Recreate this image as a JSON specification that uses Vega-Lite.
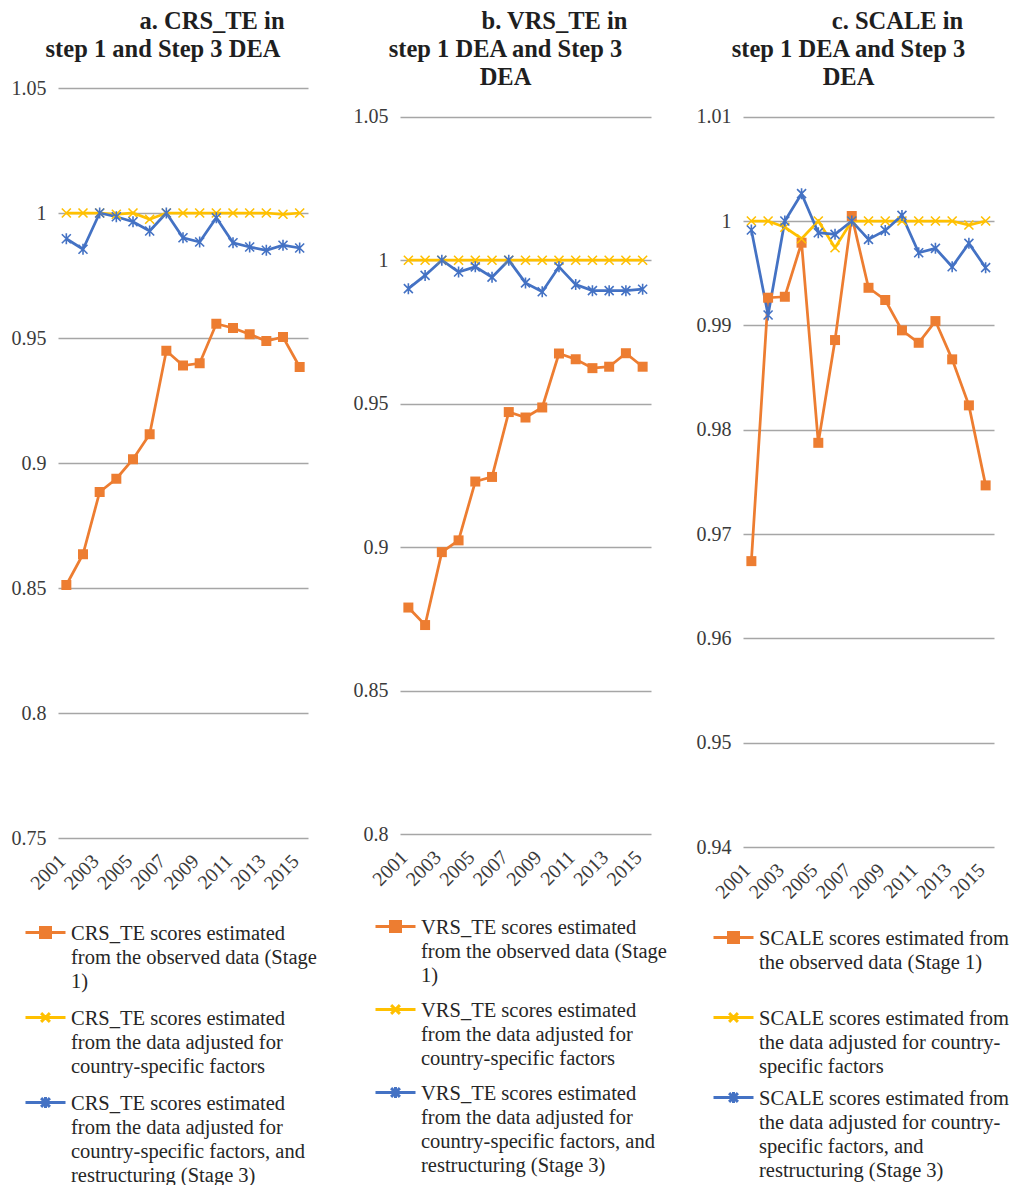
{
  "$schema": "https://vega.github.io/schema/vega-lite/v6.json",
  "background": "white",
  "padding": {"left": 11, "top": 8, "right": 2, "bottom": 1},
  "bounds": "flush",
  "spacing": 92,
  "resolve": {"scale": {"stroke": "independent", "fill": "independent", "shape": "independent"}, "legend": {"stroke": "independent", "fill": "independent", "shape": "independent"}},
  "config": {
    "view": {"stroke": null},
    "font": "Liberation Serif",
    "axis": {"labelFont": "Liberation Serif", "labelFontSize": 20, "labelColor": "#3b3b3b", "domain": false, "ticks": false, "tickSize": 0, "title": null, "labelOverlap": false},
    "axisY": {"grid": true, "gridColor": "#a6a6a6", "gridWidth": 1.3, "labelPadding": 12},
    "axisX": {"grid": false, "labelAngle": -45, "labelAlign": "right", "labelBaseline": "alphabetic", "labelPadding": 24},
    "legend": {"labelFont": "Liberation Serif", "labelFontSize": 20.5, "labelColor": "#262626", "labelLimit": 500, "symbolStrokeWidth": 3, "symbolSize": 400, "labelBaseline": "top", "labelOffset": 14},
    "title": {"font": "Liberation Serif", "fontSize": 24.5, "fontWeight": "bold", "lineHeight": 28, "anchor": "middle", "color": "#1f1f1f", "frame": "group"},
    "style": {"guide-label": {"lineHeight": 24}}
  },
  "hconcat": [
    {
      "width": 250, "height": 750,
      "title": {"text": ["\u200b\u00a0\u00a0\u00a0\u00a0\u00a0\u00a0\u00a0\u00a0\u00a0\u00a0\u00a0\u00a0\u00a0\u00a0\u00a0\u00a0a. CRS_TE in", "step 1 and Step 3 DEA"], "dx": -20, "offset": 16},
      "data": {"values": [
        {"series": "CRS_TE scores estimated from the observed data (Stage 1)", "year": 2001, "value": 0.8512},
        {"series": "CRS_TE scores estimated from the observed data (Stage 1)", "year": 2002, "value": 0.8635},
        {"series": "CRS_TE scores estimated from the observed data (Stage 1)", "year": 2003, "value": 0.8884},
        {"series": "CRS_TE scores estimated from the observed data (Stage 1)", "year": 2004, "value": 0.8937},
        {"series": "CRS_TE scores estimated from the observed data (Stage 1)", "year": 2005, "value": 0.9015},
        {"series": "CRS_TE scores estimated from the observed data (Stage 1)", "year": 2006, "value": 0.9115},
        {"series": "CRS_TE scores estimated from the observed data (Stage 1)", "year": 2007, "value": 0.9449},
        {"series": "CRS_TE scores estimated from the observed data (Stage 1)", "year": 2008, "value": 0.939},
        {"series": "CRS_TE scores estimated from the observed data (Stage 1)", "year": 2009, "value": 0.9399},
        {"series": "CRS_TE scores estimated from the observed data (Stage 1)", "year": 2010, "value": 0.9557},
        {"series": "CRS_TE scores estimated from the observed data (Stage 1)", "year": 2011, "value": 0.954},
        {"series": "CRS_TE scores estimated from the observed data (Stage 1)", "year": 2012, "value": 0.9515},
        {"series": "CRS_TE scores estimated from the observed data (Stage 1)", "year": 2013, "value": 0.9488},
        {"series": "CRS_TE scores estimated from the observed data (Stage 1)", "year": 2014, "value": 0.9504},
        {"series": "CRS_TE scores estimated from the observed data (Stage 1)", "year": 2015, "value": 0.9384},
        {"series": "CRS_TE scores estimated from the data adjusted for country-specific factors", "year": 2001, "value": 1.0},
        {"series": "CRS_TE scores estimated from the data adjusted for country-specific factors", "year": 2002, "value": 1.0},
        {"series": "CRS_TE scores estimated from the data adjusted for country-specific factors", "year": 2003, "value": 1.0},
        {"series": "CRS_TE scores estimated from the data adjusted for country-specific factors", "year": 2004, "value": 0.9995},
        {"series": "CRS_TE scores estimated from the data adjusted for country-specific factors", "year": 2005, "value": 1.0},
        {"series": "CRS_TE scores estimated from the data adjusted for country-specific factors", "year": 2006, "value": 0.9975},
        {"series": "CRS_TE scores estimated from the data adjusted for country-specific factors", "year": 2007, "value": 1.0},
        {"series": "CRS_TE scores estimated from the data adjusted for country-specific factors", "year": 2008, "value": 1.0},
        {"series": "CRS_TE scores estimated from the data adjusted for country-specific factors", "year": 2009, "value": 1.0},
        {"series": "CRS_TE scores estimated from the data adjusted for country-specific factors", "year": 2010, "value": 1.0},
        {"series": "CRS_TE scores estimated from the data adjusted for country-specific factors", "year": 2011, "value": 1.0},
        {"series": "CRS_TE scores estimated from the data adjusted for country-specific factors", "year": 2012, "value": 1.0},
        {"series": "CRS_TE scores estimated from the data adjusted for country-specific factors", "year": 2013, "value": 1.0},
        {"series": "CRS_TE scores estimated from the data adjusted for country-specific factors", "year": 2014, "value": 0.9995},
        {"series": "CRS_TE scores estimated from the data adjusted for country-specific factors", "year": 2015, "value": 1.0},
        {"series": "CRS_TE scores estimated from the data adjusted for country-specific factors, and restructuring (Stage 3)", "year": 2001, "value": 0.9897},
        {"series": "CRS_TE scores estimated from the data adjusted for country-specific factors, and restructuring (Stage 3)", "year": 2002, "value": 0.9855},
        {"series": "CRS_TE scores estimated from the data adjusted for country-specific factors, and restructuring (Stage 3)", "year": 2003, "value": 1.0},
        {"series": "CRS_TE scores estimated from the data adjusted for country-specific factors, and restructuring (Stage 3)", "year": 2004, "value": 0.9985},
        {"series": "CRS_TE scores estimated from the data adjusted for country-specific factors, and restructuring (Stage 3)", "year": 2005, "value": 0.9965},
        {"series": "CRS_TE scores estimated from the data adjusted for country-specific factors, and restructuring (Stage 3)", "year": 2006, "value": 0.9928},
        {"series": "CRS_TE scores estimated from the data adjusted for country-specific factors, and restructuring (Stage 3)", "year": 2007, "value": 1.0},
        {"series": "CRS_TE scores estimated from the data adjusted for country-specific factors, and restructuring (Stage 3)", "year": 2008, "value": 0.9901},
        {"series": "CRS_TE scores estimated from the data adjusted for country-specific factors, and restructuring (Stage 3)", "year": 2009, "value": 0.9884},
        {"series": "CRS_TE scores estimated from the data adjusted for country-specific factors, and restructuring (Stage 3)", "year": 2010, "value": 0.9981},
        {"series": "CRS_TE scores estimated from the data adjusted for country-specific factors, and restructuring (Stage 3)", "year": 2011, "value": 0.9881},
        {"series": "CRS_TE scores estimated from the data adjusted for country-specific factors, and restructuring (Stage 3)", "year": 2012, "value": 0.9864},
        {"series": "CRS_TE scores estimated from the data adjusted for country-specific factors, and restructuring (Stage 3)", "year": 2013, "value": 0.9851},
        {"series": "CRS_TE scores estimated from the data adjusted for country-specific factors, and restructuring (Stage 3)", "year": 2014, "value": 0.9871},
        {"series": "CRS_TE scores estimated from the data adjusted for country-specific factors, and restructuring (Stage 3)", "year": 2015, "value": 0.986}
      ]},
      "encoding": {
        "x": {"field": "year", "type": "ordinal", "axis": {"values": [2001, 2003, 2005, 2007, 2009, 2011, 2013, 2015]}},
        "y": {"field": "value", "type": "quantitative", "scale": {"domain": [0.75, 1.05], "nice": false, "zero": false}, "axis": {"values": [0.75, 0.8, 0.85, 0.9, 0.95, 1, 1.05], "format": "~g"}}
      },
      "layer": [
        {"mark": {"type": "line", "strokeWidth": 2.75},
         "encoding": {"stroke": {"field": "series", "type": "nominal",
           "scale": {"domain": ["CRS_TE scores estimated from the observed data (Stage 1)", "CRS_TE scores estimated from the data adjusted for country-specific factors", "CRS_TE scores estimated from the data adjusted for country-specific factors, and restructuring (Stage 3)"], "range": ["#ED7D31", "#FFC000", "#4472C4"]}}}},
        {"transform": [{"filter": "indexof(datum.series, 'observed') >= 0"}],
         "mark": {"type": "point", "shape": "square", "filled": true, "color": "#ED7D31", "size": 100, "opacity": 1}},
        {"transform": [{"filter": "indexof(datum.series, 'observed') < 0 && indexof(datum.series, 'restructuring') < 0"}],
         "mark": {"type": "point", "shape": "M-0.9,-0.9L0.9,0.9M-0.9,0.9L0.9,-0.9", "filled": false, "color": "#FFC000", "size": 100, "strokeWidth": 1.6, "opacity": 1}},
        {"transform": [{"filter": "indexof(datum.series, 'restructuring') >= 0"}],
         "mark": {"type": "point", "shape": "M-0.9,-0.9L0.9,0.9M-0.9,0.9L0.9,-0.9M0,-1.1L0,1.1", "filled": false, "color": "#4472C4", "size": 100, "strokeWidth": 1.6, "opacity": 1}},
        {"transform": [{"filter": "datum.year < 0"}],
         "mark": {"type": "point", "opacity": 1, "strokeWidth": 3},
         "encoding": {
           "fill": {"field": "series", "type": "nominal",
             "scale": {"domain": ["CRS_TE scores estimated from the observed data (Stage 1)", "CRS_TE scores estimated from the data adjusted for country-specific factors", "CRS_TE scores estimated from the data adjusted for country-specific factors, and restructuring (Stage 3)"], "range": ["#ED7D31", "#FFC000", "#4472C4"]},
             "legend": {"orient": "none", "legendX": -24, "legendY": 824, "title": null, "rowPadding": 5,
               "labelExpr": "indexof(datum.label,'observed')>=0 ? ['CRS_TE scores estimated','from the observed data (Stage','1)'] : indexof(datum.label,'restructuring')>=0 ? ['CRS_TE scores estimated','from the data adjusted for','country-specific factors, and','restructuring (Stage 3)'] : ['CRS_TE scores estimated','from the data adjusted for','country-specific factors']"}},
           "stroke": {"field": "series", "type": "nominal",
             "scale": {"domain": ["CRS_TE scores estimated from the observed data (Stage 1)", "CRS_TE scores estimated from the data adjusted for country-specific factors", "CRS_TE scores estimated from the data adjusted for country-specific factors, and restructuring (Stage 3)"], "range": ["#ED7D31", "#FFC000", "#4472C4"]},
             "legend": {"orient": "none", "legendX": -24, "legendY": 824, "title": null, "rowPadding": 5,
               "labelExpr": "indexof(datum.label,'observed')>=0 ? ['CRS_TE scores estimated','from the observed data (Stage','1)'] : indexof(datum.label,'restructuring')>=0 ? ['CRS_TE scores estimated','from the data adjusted for','country-specific factors, and','restructuring (Stage 3)'] : ['CRS_TE scores estimated','from the data adjusted for','country-specific factors']"}},
           "shape": {"field": "series", "type": "nominal",
             "scale": {"domain": ["CRS_TE scores estimated from the observed data (Stage 1)", "CRS_TE scores estimated from the data adjusted for country-specific factors", "CRS_TE scores estimated from the data adjusted for country-specific factors, and restructuring (Stage 3)"], "range": ["M-2,0.9L2,0.9M-0.5,0.4L0.5,0.4L0.5,1.4L-0.5,1.4Z", "M-2,0.9L2,0.9M-0.44,0.46L0.44,1.34M-0.44,1.34L0.44,0.46", "M-2,0.9L2,0.9M-0.44,0.46L0.44,1.34M-0.44,1.34L0.44,0.46M0,0.34L0,1.46"]},
             "legend": {"orient": "none", "legendX": -24, "legendY": 824, "title": null, "rowPadding": 5,
               "labelExpr": "indexof(datum.label,'observed')>=0 ? ['CRS_TE scores estimated','from the observed data (Stage','1)'] : indexof(datum.label,'restructuring')>=0 ? ['CRS_TE scores estimated','from the data adjusted for','country-specific factors, and','restructuring (Stage 3)'] : ['CRS_TE scores estimated','from the data adjusted for','country-specific factors']"}}
         }}
      ]
    },
    {
      "width": 251, "height": 746.3,
      "title": {"text": ["\u200b\u00a0\u00a0\u00a0\u00a0\u00a0\u00a0\u00a0\u00a0\u00a0\u00a0\u00a0\u00a0\u00a0\u00a0\u00a0\u00a0b. VRS_TE in", "step 1 DEA and Step 3", "DEA"], "dx": -20, "offset": -2},
      "data": {"values": [
        {"series": "VRS_TE scores estimated from the observed data (Stage 1)", "year": 2001, "value": 0.879},
        {"series": "VRS_TE scores estimated from the observed data (Stage 1)", "year": 2002, "value": 0.8729},
        {"series": "VRS_TE scores estimated from the observed data (Stage 1)", "year": 2003, "value": 0.8983},
        {"series": "VRS_TE scores estimated from the observed data (Stage 1)", "year": 2004, "value": 0.9024},
        {"series": "VRS_TE scores estimated from the observed data (Stage 1)", "year": 2005, "value": 0.9229},
        {"series": "VRS_TE scores estimated from the observed data (Stage 1)", "year": 2006, "value": 0.9245},
        {"series": "VRS_TE scores estimated from the observed data (Stage 1)", "year": 2007, "value": 0.9471},
        {"series": "VRS_TE scores estimated from the observed data (Stage 1)", "year": 2008, "value": 0.9452},
        {"series": "VRS_TE scores estimated from the observed data (Stage 1)", "year": 2009, "value": 0.9487},
        {"series": "VRS_TE scores estimated from the observed data (Stage 1)", "year": 2010, "value": 0.9675},
        {"series": "VRS_TE scores estimated from the observed data (Stage 1)", "year": 2011, "value": 0.9655},
        {"series": "VRS_TE scores estimated from the observed data (Stage 1)", "year": 2012, "value": 0.9624},
        {"series": "VRS_TE scores estimated from the observed data (Stage 1)", "year": 2013, "value": 0.9629},
        {"series": "VRS_TE scores estimated from the observed data (Stage 1)", "year": 2014, "value": 0.9676},
        {"series": "VRS_TE scores estimated from the observed data (Stage 1)", "year": 2015, "value": 0.9629},
        {"series": "VRS_TE scores estimated from the data adjusted for country-specific factors", "year": 2001, "value": 1.0},
        {"series": "VRS_TE scores estimated from the data adjusted for country-specific factors", "year": 2002, "value": 1.0},
        {"series": "VRS_TE scores estimated from the data adjusted for country-specific factors", "year": 2003, "value": 1.0},
        {"series": "VRS_TE scores estimated from the data adjusted for country-specific factors", "year": 2004, "value": 1.0},
        {"series": "VRS_TE scores estimated from the data adjusted for country-specific factors", "year": 2005, "value": 1.0},
        {"series": "VRS_TE scores estimated from the data adjusted for country-specific factors", "year": 2006, "value": 1.0},
        {"series": "VRS_TE scores estimated from the data adjusted for country-specific factors", "year": 2007, "value": 1.0},
        {"series": "VRS_TE scores estimated from the data adjusted for country-specific factors", "year": 2008, "value": 1.0},
        {"series": "VRS_TE scores estimated from the data adjusted for country-specific factors", "year": 2009, "value": 1.0},
        {"series": "VRS_TE scores estimated from the data adjusted for country-specific factors", "year": 2010, "value": 1.0},
        {"series": "VRS_TE scores estimated from the data adjusted for country-specific factors", "year": 2011, "value": 1.0},
        {"series": "VRS_TE scores estimated from the data adjusted for country-specific factors", "year": 2012, "value": 1.0},
        {"series": "VRS_TE scores estimated from the data adjusted for country-specific factors", "year": 2013, "value": 1.0},
        {"series": "VRS_TE scores estimated from the data adjusted for country-specific factors", "year": 2014, "value": 1.0},
        {"series": "VRS_TE scores estimated from the data adjusted for country-specific factors", "year": 2015, "value": 1.0},
        {"series": "VRS_TE scores estimated from the data adjusted for country-specific factors, and restructuring (Stage 3)", "year": 2001, "value": 0.9901},
        {"series": "VRS_TE scores estimated from the data adjusted for country-specific factors, and restructuring (Stage 3)", "year": 2002, "value": 0.9947},
        {"series": "VRS_TE scores estimated from the data adjusted for country-specific factors, and restructuring (Stage 3)", "year": 2003, "value": 1.0},
        {"series": "VRS_TE scores estimated from the data adjusted for country-specific factors, and restructuring (Stage 3)", "year": 2004, "value": 0.9959},
        {"series": "VRS_TE scores estimated from the data adjusted for country-specific factors, and restructuring (Stage 3)", "year": 2005, "value": 0.9977},
        {"series": "VRS_TE scores estimated from the data adjusted for country-specific factors, and restructuring (Stage 3)", "year": 2006, "value": 0.9941},
        {"series": "VRS_TE scores estimated from the data adjusted for country-specific factors, and restructuring (Stage 3)", "year": 2007, "value": 1.0},
        {"series": "VRS_TE scores estimated from the data adjusted for country-specific factors, and restructuring (Stage 3)", "year": 2008, "value": 0.9921},
        {"series": "VRS_TE scores estimated from the data adjusted for country-specific factors, and restructuring (Stage 3)", "year": 2009, "value": 0.989},
        {"series": "VRS_TE scores estimated from the data adjusted for country-specific factors, and restructuring (Stage 3)", "year": 2010, "value": 0.9977},
        {"series": "VRS_TE scores estimated from the data adjusted for country-specific factors, and restructuring (Stage 3)", "year": 2011, "value": 0.9915},
        {"series": "VRS_TE scores estimated from the data adjusted for country-specific factors, and restructuring (Stage 3)", "year": 2012, "value": 0.9894},
        {"series": "VRS_TE scores estimated from the data adjusted for country-specific factors, and restructuring (Stage 3)", "year": 2013, "value": 0.9894},
        {"series": "VRS_TE scores estimated from the data adjusted for country-specific factors, and restructuring (Stage 3)", "year": 2014, "value": 0.9894},
        {"series": "VRS_TE scores estimated from the data adjusted for country-specific factors, and restructuring (Stage 3)", "year": 2015, "value": 0.9899}
      ]},
      "encoding": {
        "x": {"field": "year", "type": "ordinal", "axis": {"values": [2001, 2003, 2005, 2007, 2009, 2011, 2013, 2015]}},
        "y": {"field": "value", "type": "quantitative", "scale": {"domain": [0.8, 1.06], "nice": false, "zero": false}, "axis": {"values": [0.8, 0.85, 0.9, 0.95, 1, 1.05], "format": "~g"}}
      },
      "layer": [
        {"mark": {"type": "line", "strokeWidth": 2.75},
         "encoding": {"stroke": {"field": "series", "type": "nominal",
           "scale": {"domain": ["VRS_TE scores estimated from the observed data (Stage 1)", "VRS_TE scores estimated from the data adjusted for country-specific factors", "VRS_TE scores estimated from the data adjusted for country-specific factors, and restructuring (Stage 3)"], "range": ["#ED7D31", "#FFC000", "#4472C4"]}}}},
        {"transform": [{"filter": "indexof(datum.series, 'observed') >= 0"}],
         "mark": {"type": "point", "shape": "square", "filled": true, "color": "#ED7D31", "size": 100, "opacity": 1}},
        {"transform": [{"filter": "indexof(datum.series, 'observed') < 0 && indexof(datum.series, 'restructuring') < 0"}],
         "mark": {"type": "point", "shape": "M-0.9,-0.9L0.9,0.9M-0.9,0.9L0.9,-0.9", "filled": false, "color": "#FFC000", "size": 100, "strokeWidth": 1.6, "opacity": 1}},
        {"transform": [{"filter": "indexof(datum.series, 'restructuring') >= 0"}],
         "mark": {"type": "point", "shape": "M-0.9,-0.9L0.9,0.9M-0.9,0.9L0.9,-0.9M0,-1.1L0,1.1", "filled": false, "color": "#4472C4", "size": 100, "strokeWidth": 1.6, "opacity": 1}},
        {"transform": [{"filter": "datum.year < 0"}],
         "mark": {"type": "point", "opacity": 1, "strokeWidth": 3},
         "encoding": {
           "fill": {"field": "series", "type": "nominal",
             "scale": {"domain": ["VRS_TE scores estimated from the observed data (Stage 1)", "VRS_TE scores estimated from the data adjusted for country-specific factors", "VRS_TE scores estimated from the data adjusted for country-specific factors, and restructuring (Stage 3)"], "range": ["#ED7D31", "#FFC000", "#4472C4"]},
             "legend": {"orient": "none", "legendX": -16, "legendY": 818, "title": null, "rowPadding": 3,
               "labelExpr": "indexof(datum.label,'observed')>=0 ? ['VRS_TE scores estimated','from the observed data (Stage','1)'] : indexof(datum.label,'restructuring')>=0 ? ['VRS_TE scores estimated','from the data adjusted for','country-specific factors, and','restructuring (Stage 3)'] : ['VRS_TE scores estimated','from the data adjusted for','country-specific factors']"}},
           "stroke": {"field": "series", "type": "nominal",
             "scale": {"domain": ["VRS_TE scores estimated from the observed data (Stage 1)", "VRS_TE scores estimated from the data adjusted for country-specific factors", "VRS_TE scores estimated from the data adjusted for country-specific factors, and restructuring (Stage 3)"], "range": ["#ED7D31", "#FFC000", "#4472C4"]},
             "legend": {"orient": "none", "legendX": -16, "legendY": 818, "title": null, "rowPadding": 3,
               "labelExpr": "indexof(datum.label,'observed')>=0 ? ['VRS_TE scores estimated','from the observed data (Stage','1)'] : indexof(datum.label,'restructuring')>=0 ? ['VRS_TE scores estimated','from the data adjusted for','country-specific factors, and','restructuring (Stage 3)'] : ['VRS_TE scores estimated','from the data adjusted for','country-specific factors']"}},
           "shape": {"field": "series", "type": "nominal",
             "scale": {"domain": ["VRS_TE scores estimated from the observed data (Stage 1)", "VRS_TE scores estimated from the data adjusted for country-specific factors", "VRS_TE scores estimated from the data adjusted for country-specific factors, and restructuring (Stage 3)"], "range": ["M-2,0.9L2,0.9M-0.5,0.4L0.5,0.4L0.5,1.4L-0.5,1.4Z", "M-2,0.9L2,0.9M-0.44,0.46L0.44,1.34M-0.44,1.34L0.44,0.46", "M-2,0.9L2,0.9M-0.44,0.46L0.44,1.34M-0.44,1.34L0.44,0.46M0,0.34L0,1.46"]},
             "legend": {"orient": "none", "legendX": -16, "legendY": 818, "title": null, "rowPadding": 3,
               "labelExpr": "indexof(datum.label,'observed')>=0 ? ['VRS_TE scores estimated','from the observed data (Stage','1)'] : indexof(datum.label,'restructuring')>=0 ? ['VRS_TE scores estimated','from the data adjusted for','country-specific factors, and','restructuring (Stage 3)'] : ['VRS_TE scores estimated','from the data adjusted for','country-specific factors']"}}
         }}
      ]
    },
    {
      "width": 251, "height": 759,
      "title": {"text": ["\u200b\u00a0\u00a0\u00a0\u00a0\u00a0\u00a0\u00a0\u00a0\u00a0\u00a0\u00a0\u00a0\u00a0\u00a0\u00a0\u00a0c. SCALE in", "step 1 DEA and Step 3", "DEA"], "dx": -20, "offset": -2},
      "data": {"values": [
        {"series": "SCALE scores estimated from the observed data (Stage 1)", "year": 2001, "value": 0.9674},
        {"series": "SCALE scores estimated from the observed data (Stage 1)", "year": 2002, "value": 0.99265},
        {"series": "SCALE scores estimated from the observed data (Stage 1)", "year": 2003, "value": 0.99274},
        {"series": "SCALE scores estimated from the observed data (Stage 1)", "year": 2004, "value": 0.99792},
        {"series": "SCALE scores estimated from the observed data (Stage 1)", "year": 2005, "value": 0.97874},
        {"series": "SCALE scores estimated from the observed data (Stage 1)", "year": 2006, "value": 0.98859},
        {"series": "SCALE scores estimated from the observed data (Stage 1)", "year": 2007, "value": 1.00048},
        {"series": "SCALE scores estimated from the observed data (Stage 1)", "year": 2008, "value": 0.9936},
        {"series": "SCALE scores estimated from the observed data (Stage 1)", "year": 2009, "value": 0.99243},
        {"series": "SCALE scores estimated from the observed data (Stage 1)", "year": 2010, "value": 0.98952},
        {"series": "SCALE scores estimated from the observed data (Stage 1)", "year": 2011, "value": 0.98833},
        {"series": "SCALE scores estimated from the observed data (Stage 1)", "year": 2012, "value": 0.99041},
        {"series": "SCALE scores estimated from the observed data (Stage 1)", "year": 2013, "value": 0.98674},
        {"series": "SCALE scores estimated from the observed data (Stage 1)", "year": 2014, "value": 0.98233},
        {"series": "SCALE scores estimated from the observed data (Stage 1)", "year": 2015, "value": 0.97466},
        {"series": "SCALE scores estimated from the data adjusted for country-specific factors", "year": 2001, "value": 1.0},
        {"series": "SCALE scores estimated from the data adjusted for country-specific factors", "year": 2002, "value": 1.0},
        {"series": "SCALE scores estimated from the data adjusted for country-specific factors", "year": 2003, "value": 0.9994},
        {"series": "SCALE scores estimated from the data adjusted for country-specific factors", "year": 2004, "value": 0.9983},
        {"series": "SCALE scores estimated from the data adjusted for country-specific factors", "year": 2005, "value": 1.0},
        {"series": "SCALE scores estimated from the data adjusted for country-specific factors", "year": 2006, "value": 0.99744},
        {"series": "SCALE scores estimated from the data adjusted for country-specific factors", "year": 2007, "value": 1.0},
        {"series": "SCALE scores estimated from the data adjusted for country-specific factors", "year": 2008, "value": 1.0},
        {"series": "SCALE scores estimated from the data adjusted for country-specific factors", "year": 2009, "value": 1.0},
        {"series": "SCALE scores estimated from the data adjusted for country-specific factors", "year": 2010, "value": 1.0},
        {"series": "SCALE scores estimated from the data adjusted for country-specific factors", "year": 2011, "value": 1.0},
        {"series": "SCALE scores estimated from the data adjusted for country-specific factors", "year": 2012, "value": 1.0},
        {"series": "SCALE scores estimated from the data adjusted for country-specific factors", "year": 2013, "value": 1.0},
        {"series": "SCALE scores estimated from the data adjusted for country-specific factors", "year": 2014, "value": 0.99962},
        {"series": "SCALE scores estimated from the data adjusted for country-specific factors", "year": 2015, "value": 1.0},
        {"series": "SCALE scores estimated from the data adjusted for country-specific factors, and restructuring (Stage 3)", "year": 2001, "value": 0.99914},
        {"series": "SCALE scores estimated from the data adjusted for country-specific factors, and restructuring (Stage 3)", "year": 2002, "value": 0.99099},
        {"series": "SCALE scores estimated from the data adjusted for country-specific factors, and restructuring (Stage 3)", "year": 2003, "value": 1.0},
        {"series": "SCALE scores estimated from the data adjusted for country-specific factors, and restructuring (Stage 3)", "year": 2004, "value": 1.00262},
        {"series": "SCALE scores estimated from the data adjusted for country-specific factors, and restructuring (Stage 3)", "year": 2005, "value": 0.99888},
        {"series": "SCALE scores estimated from the data adjusted for country-specific factors, and restructuring (Stage 3)", "year": 2006, "value": 0.99872},
        {"series": "SCALE scores estimated from the data adjusted for country-specific factors, and restructuring (Stage 3)", "year": 2007, "value": 1.0},
        {"series": "SCALE scores estimated from the data adjusted for country-specific factors, and restructuring (Stage 3)", "year": 2008, "value": 0.99824},
        {"series": "SCALE scores estimated from the data adjusted for country-specific factors, and restructuring (Stage 3)", "year": 2009, "value": 0.9991},
        {"series": "SCALE scores estimated from the data adjusted for country-specific factors, and restructuring (Stage 3)", "year": 2010, "value": 1.00054},
        {"series": "SCALE scores estimated from the data adjusted for country-specific factors, and restructuring (Stage 3)", "year": 2011, "value": 0.99696},
        {"series": "SCALE scores estimated from the data adjusted for country-specific factors, and restructuring (Stage 3)", "year": 2012, "value": 0.99738},
        {"series": "SCALE scores estimated from the data adjusted for country-specific factors, and restructuring (Stage 3)", "year": 2013, "value": 0.99562},
        {"series": "SCALE scores estimated from the data adjusted for country-specific factors, and restructuring (Stage 3)", "year": 2014, "value": 0.99786},
        {"series": "SCALE scores estimated from the data adjusted for country-specific factors, and restructuring (Stage 3)", "year": 2015, "value": 0.99553}
      ]},
      "encoding": {
        "x": {"field": "year", "type": "ordinal", "axis": {"values": [2001, 2003, 2005, 2007, 2009, 2011, 2013, 2015]}},
        "y": {"field": "value", "type": "quantitative", "scale": {"domain": [0.94, 1.01275], "nice": false, "zero": false}, "axis": {"values": [0.94, 0.95, 0.96, 0.97, 0.98, 0.99, 1, 1.01], "format": "~g"}}
      },
      "layer": [
        {"mark": {"type": "line", "strokeWidth": 2.75},
         "encoding": {"stroke": {"field": "series", "type": "nominal",
           "scale": {"domain": ["SCALE scores estimated from the observed data (Stage 1)", "SCALE scores estimated from the data adjusted for country-specific factors", "SCALE scores estimated from the data adjusted for country-specific factors, and restructuring (Stage 3)"], "range": ["#ED7D31", "#FFC000", "#4472C4"]}}}},
        {"transform": [{"filter": "indexof(datum.series, 'observed') >= 0"}],
         "mark": {"type": "point", "shape": "square", "filled": true, "color": "#ED7D31", "size": 100, "opacity": 1}},
        {"transform": [{"filter": "indexof(datum.series, 'observed') < 0 && indexof(datum.series, 'restructuring') < 0"}],
         "mark": {"type": "point", "shape": "M-0.9,-0.9L0.9,0.9M-0.9,0.9L0.9,-0.9", "filled": false, "color": "#FFC000", "size": 100, "strokeWidth": 1.6, "opacity": 1}},
        {"transform": [{"filter": "indexof(datum.series, 'restructuring') >= 0"}],
         "mark": {"type": "point", "shape": "M-0.9,-0.9L0.9,0.9M-0.9,0.9L0.9,-0.9M0,-1.1L0,1.1", "filled": false, "color": "#4472C4", "size": 100, "strokeWidth": 1.6, "opacity": 1}},
        {"transform": [{"filter": "datum.year < 0"}],
         "mark": {"type": "point", "opacity": 1, "strokeWidth": 3},
         "encoding": {
           "fill": {"field": "series", "type": "nominal",
             "scale": {"domain": ["SCALE scores estimated from the observed data (Stage 1)", "SCALE scores estimated from the data adjusted for country-specific factors", "SCALE scores estimated from the data adjusted for country-specific factors, and restructuring (Stage 3)"], "range": ["#ED7D31", "#FFC000", "#4472C4"]},
             "legend": {"orient": "none", "legendX": -21, "legendY": 829, "title": null, "rowPadding": 0,
               "labelExpr": "indexof(datum.label,'observed')>=0 ? ['SCALE scores estimated from','the observed data (Stage 1)',' '] : indexof(datum.label,'restructuring')>=0 ? ['SCALE scores estimated from','the data adjusted for country-','specific factors, and','restructuring (Stage 3)'] : ['SCALE scores estimated from','the data adjusted for country-','specific factors']"}},
           "stroke": {"field": "series", "type": "nominal",
             "scale": {"domain": ["SCALE scores estimated from the observed data (Stage 1)", "SCALE scores estimated from the data adjusted for country-specific factors", "SCALE scores estimated from the data adjusted for country-specific factors, and restructuring (Stage 3)"], "range": ["#ED7D31", "#FFC000", "#4472C4"]},
             "legend": {"orient": "none", "legendX": -21, "legendY": 829, "title": null, "rowPadding": 0,
               "labelExpr": "indexof(datum.label,'observed')>=0 ? ['SCALE scores estimated from','the observed data (Stage 1)',' '] : indexof(datum.label,'restructuring')>=0 ? ['SCALE scores estimated from','the data adjusted for country-','specific factors, and','restructuring (Stage 3)'] : ['SCALE scores estimated from','the data adjusted for country-','specific factors']"}},
           "shape": {"field": "series", "type": "nominal",
             "scale": {"domain": ["SCALE scores estimated from the observed data (Stage 1)", "SCALE scores estimated from the data adjusted for country-specific factors", "SCALE scores estimated from the data adjusted for country-specific factors, and restructuring (Stage 3)"], "range": ["M-2,0.9L2,0.9M-0.5,0.4L0.5,0.4L0.5,1.4L-0.5,1.4Z", "M-2,0.9L2,0.9M-0.44,0.46L0.44,1.34M-0.44,1.34L0.44,0.46", "M-2,0.9L2,0.9M-0.44,0.46L0.44,1.34M-0.44,1.34L0.44,0.46M0,0.34L0,1.46"]},
             "legend": {"orient": "none", "legendX": -21, "legendY": 829, "title": null, "rowPadding": 0,
               "labelExpr": "indexof(datum.label,'observed')>=0 ? ['SCALE scores estimated from','the observed data (Stage 1)',' '] : indexof(datum.label,'restructuring')>=0 ? ['SCALE scores estimated from','the data adjusted for country-','specific factors, and','restructuring (Stage 3)'] : ['SCALE scores estimated from','the data adjusted for country-','specific factors']"}}
         }}
      ]
    }
  ]
}
